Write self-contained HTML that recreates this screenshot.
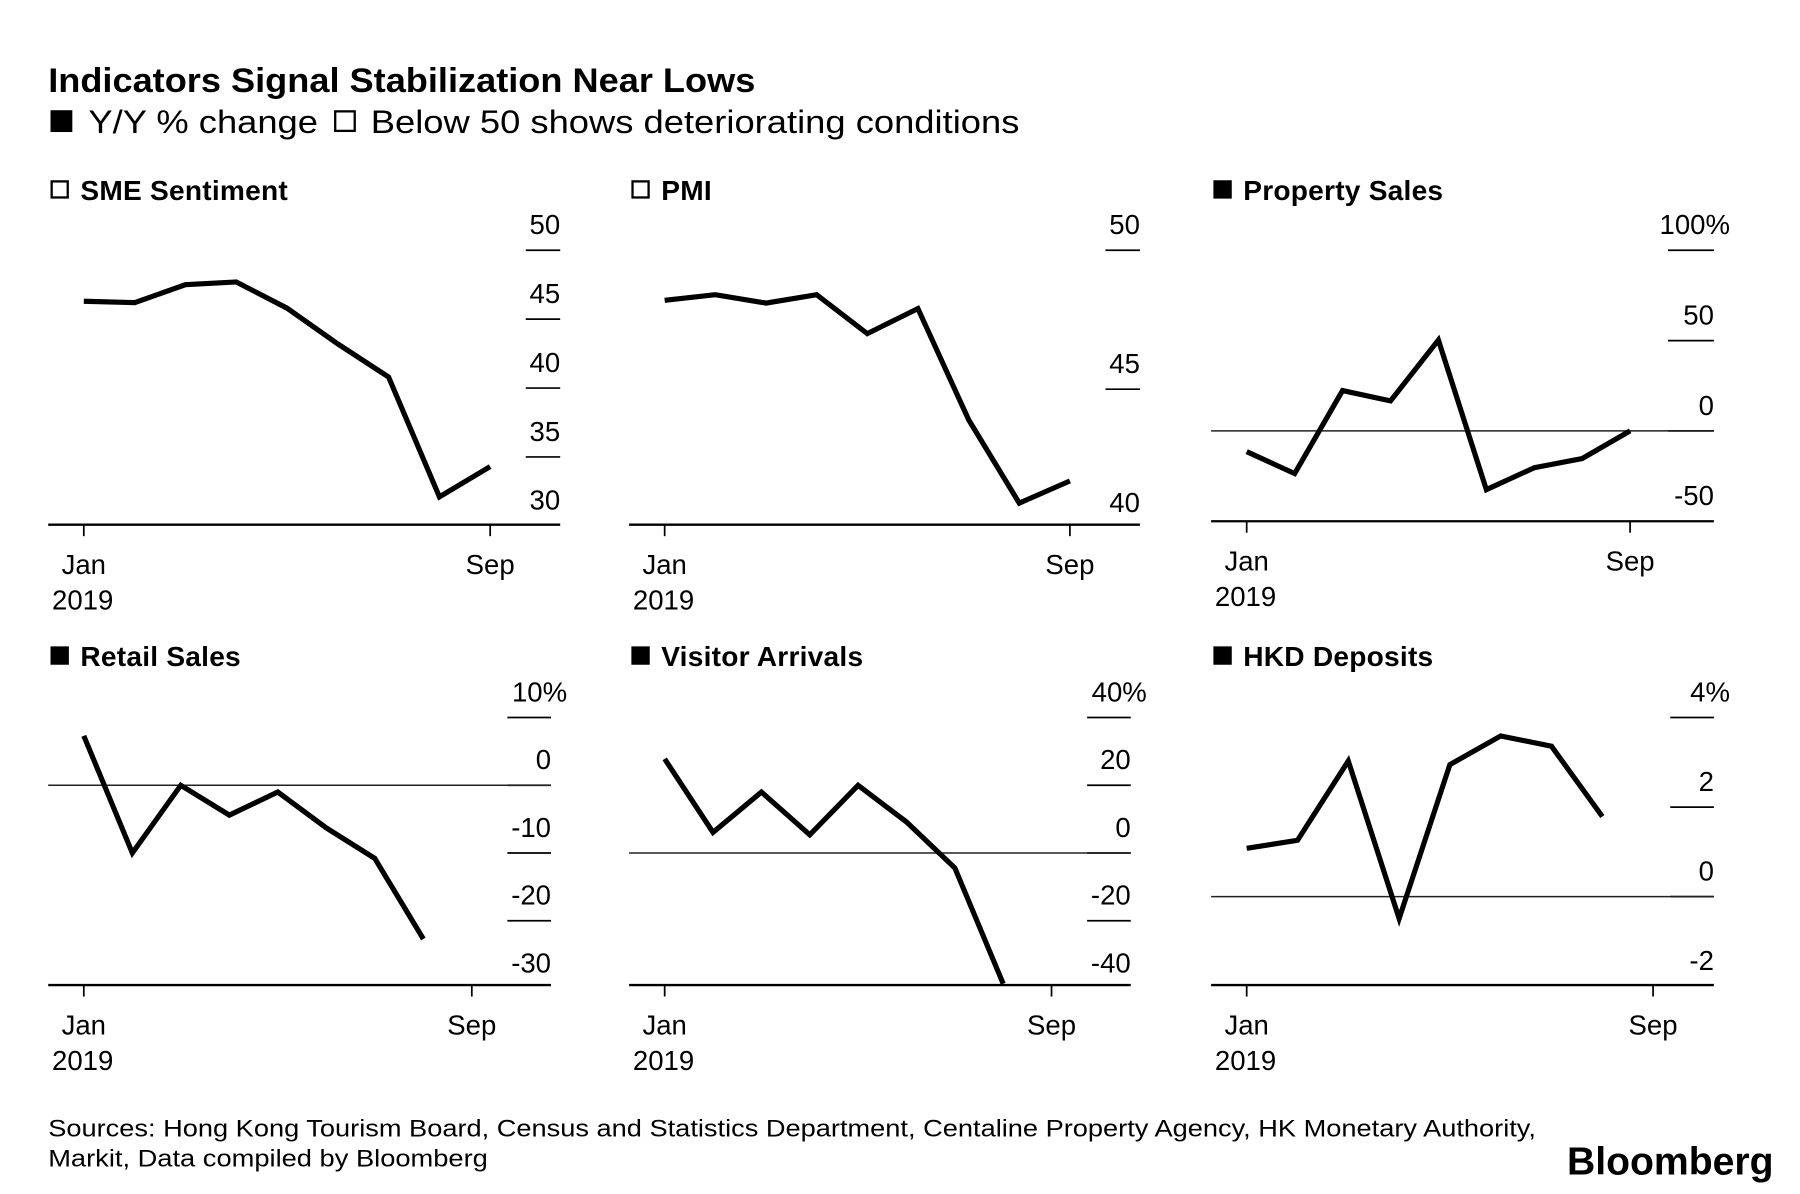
<!DOCTYPE html>
<html><head><meta charset="utf-8"><style>
html,body{margin:0;padding:0;background:#fff;}
svg{display:block;}
text{font-family:"Liberation Sans",sans-serif;fill:#000;}
</style></head><body>
<svg id="chart" width="1800" height="1194" viewBox="0 0 1568 1040" preserveAspectRatio="none" xmlns="http://www.w3.org/2000/svg">
<text x="42" y="80" font-size="30" font-weight="bold" textLength="616" lengthAdjust="spacingAndGlyphs">Indicators Signal Stabilization Near Lows</text>
<g>
<rect x="44" y="96" width="19" height="19" fill="#000"/>
<text x="77" y="116" font-size="28" textLength="200" lengthAdjust="spacingAndGlyphs">Y/Y % change</text>
<rect x="292" y="97" width="17" height="17" fill="none" stroke="#000" stroke-width="2"/>
<text x="323" y="116" font-size="28" textLength="565" lengthAdjust="spacingAndGlyphs">Below 50 shows deteriorating conditions</text>
</g>
<g id="panels"></g>
<text x="42" y="990" font-size="21" textLength="1296" lengthAdjust="spacingAndGlyphs">Sources: Hong Kong Tourism Board, Census and Statistics Department, Centaline Property Agency, HK Monetary Authority,</text>
<text x="42" y="1016" font-size="21" textLength="383" lengthAdjust="spacingAndGlyphs">Markit, Data compiled by Bloomberg</text>
<text x="1365" y="1023" font-size="34" font-weight="bold" textLength="180" lengthAdjust="spacingAndGlyphs">Bloomberg</text>
</svg>
<script>
// Data arrays
const smeValues = [46.3, 46.2, 47.5, 47.7, 45.8, 43.2, 40.8, 32.1, 34.3];
const smeTicks = [50, 45, 40, 35, 30];
const pmiValues = [48.2, 48.4, 48.1, 48.4, 47.0, 47.9, 43.9, 40.9, 41.7];
const pmiTicks = [50, 45, 40];
const propertyValues = [-11.5, -23.6, 22.3, 16.6, 50.3, -32.5, -20.4, -15.3, 0];
const propertyTicks = [100, 50, 0, -50];
const retailValues = [7.3, -10, 0, -4.4, -1, -6.3, -10.8, -22.7];
const retailTicks = [10, 0, -10, -20, -30];
const visitorValues = [27.8, 6.1, 18, 5.4, 20, 9.2, -4.4, -38.6];
const visitorTicks = [40, 20, 0, -20, -40];
const depositValues = [1.08, 1.26, 3.03, -0.49, 2.95, 3.59, 3.36, 1.79];
const depositTicks = [4, 2, 0, -2];
const xLabels = ["Jan", "Sep"];
const yearLabel = "2019";

const NS = "http://www.w3.org/2000/svg";
const root = document.getElementById('panels');
function mk(tag, attrs, parent) {
  const e = document.createElementNS(NS, tag);
  for (const k in attrs) e.setAttribute(k, attrs[k]);
  parent.appendChild(e);
  return e;
}

function panel(cfg) {
  const g = mk('g', {}, root);
  
  
  const tg = mk('g', {}, g);
  
  
  if (cfg.filled) mk('rect', {x: cfg.x0 + 2, y: cfg.titleY - 17, width: 16, height: 16, fill: '#000'}, tg);
  else mk('rect', {x: cfg.x0 + 3, y: cfg.titleY - 16, width: 14, height: 14, fill: 'none', stroke: '#000', 'stroke-width': 2}, tg);
  const tt = mk('text', {x: cfg.x0 + 28, y: cfg.titleY, 'font-size': 24.5, 'font-weight': 'bold', 'letter-spacing': 0.2}, tg);
  tt.textContent = cfg.title;

  const yMax = cfg.ticks[0], yMin = cfg.ticks[cfg.ticks.length - 1];
  const yScale = v => cfg.yTop + (yMax - v) / (yMax - yMin) * (cfg.yBot - cfg.yTop);
  const xScale = i => cfg.xJan + i * (cfg.xSep - cfg.xJan) / 8;

  cfg.ticks.forEach((t, i) => {
    const y = yScale(t);
    if (i < cfg.ticks.length - 1 || !cfg.baseAtMin) {
      const ln = mk('line', {x1: cfg.x1 - cfg.tickW, x2: cfg.x1, y1: y, y2: y, stroke: '#000', 'stroke-width': 1.5}, g);
      
      
    }
    const lb = mk('text', {x: cfg.x1 + (i === 0 && cfg.pct ? 14 : 0), y: y - 14, 'font-size': 24, 'text-anchor': 'end'}, g);
    
    
    lb.textContent = (i === 0 && cfg.pct) ? t + '%' : String(t);
  });
  if (cfg.zero) {
    const z = yScale(0);
    const zl = mk('line', {x1: cfg.x0, x2: cfg.x1, y1: z, y2: z, stroke: '#222', 'stroke-width': 1.3}, g);
    
    
  }
  const ax = mk('line', {x1: cfg.x0, x2: cfg.x1, y1: cfg.base, y2: cfg.base, stroke: '#000', 'stroke-width': 2}, g);
  
  
  [0, 8].forEach((m, k) => {
    const x = xScale(m);
    const tk = mk('line', {x1: x, x2: x, y1: cfg.base, y2: cfg.base + 10, stroke: '#000', 'stroke-width': 1.5}, g);
    
    
    const lb = mk('text', {x: x, y: cfg.base + 43, 'font-size': 24, 'text-anchor': 'middle'}, g);
    
    
    lb.textContent = xLabels[k];
  });
  const yr = mk('text', {x: xScale(0) - 1, y: cfg.base + 74, 'font-size': 24, 'text-anchor': 'middle'}, g);
  
  
  yr.textContent = yearLabel;
  const pts = cfg.values.map((v, i) => xScale(i).toFixed(1) + ',' + yScale(v).toFixed(1)).join(' ');
  const pl = mk('polyline', {points: pts, fill: 'none', stroke: '#000', 'stroke-width': 4.5, 'stroke-linejoin': 'miter', 'stroke-linecap': 'butt'}, g);
  
  
}

panel({name:'sme-sentiment', title:'SME Sentiment', filled:false, x0:42, x1:488, xJan:73, xSep:427, titleY:174, yTop:218, yBot:458, base:457, ticks:smeTicks, values:smeValues, tickW:30, baseAtMin:true});
panel({name:'pmi', title:'PMI', filled:false, x0:548, x1:993, xJan:579, xSep:932, titleY:174, yTop:218, yBot:460, base:457, ticks:pmiTicks, values:pmiValues, tickW:30, baseAtMin:true});
panel({name:'property-sales', title:'Property Sales', filled:true, x0:1055, x1:1493, xJan:1086, xSep:1420, titleY:174, yTop:218, yBot:454, base:454, ticks:propertyTicks, values:propertyValues, tickW:40, pct:true, zero:true, baseAtMin:true});
panel({name:'retail-sales', title:'Retail Sales', filled:true, x0:42, x1:480, xJan:73, xSep:411, titleY:580, yTop:625, yBot:861, base:858, ticks:retailTicks, values:retailValues, tickW:38, pct:true, zero:true, baseAtMin:true});
panel({name:'visitor-arrivals', title:'Visitor Arrivals', filled:true, x0:548, x1:985, xJan:579, xSep:916, titleY:580, yTop:625, yBot:861, base:858, ticks:visitorTicks, values:visitorValues, tickW:38, pct:true, zero:true, baseAtMin:true});
panel({name:'hkd-deposits', title:'HKD Deposits', filled:true, x0:1055, x1:1493, xJan:1086, xSep:1440, titleY:580, yTop:625, yBot:859, base:858, ticks:depositTicks, values:depositValues, tickW:38, pct:true, zero:true, baseAtMin:true});
</script>
</body></html>
